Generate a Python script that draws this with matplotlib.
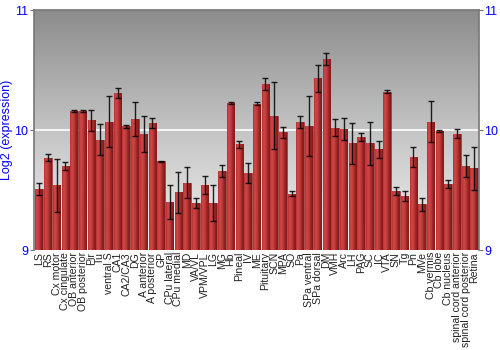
import numpy as np
import matplotlib
matplotlib.use("Agg")
import matplotlib.pyplot as plt
from matplotlib.colors import LinearSegmentedColormap

plt.rcParams['font.family'] = ['Liberation Sans', 'DejaVu Sans']

categories = ["LS", "RS", "Cx motor", "Cx cingulate", "OB anterior", "OB posterior", "Pir", "Tu",
              "ventral S", "CA1", "CA2/CA3", "DG", "A anterior", "A posterior", "GP", "CPu lateral",
              "CPu medial", "MD", "VA/VL", "VPM/VPL", "LG", "MG", "Hb", "Pineal", "IV", "ME",
              "Pituitary", "SCN", "MPA", "SO", "Pa", "SPa ventral", "SPa dorsal", "DM", "VMH", "Arc",
              "LH", "PAG", "SC", "IC", "VTA", "SN", "Tg", "Pn", "MVe", "Cb vermis", "Cb lobe",
              "Cb nucleus", "spinal cord anterior", "spinal cord posterior", "Retina"]
values = [9.51, 9.77, 9.54, 9.70, 10.16, 10.16, 10.08, 9.92, 10.07, 10.31, 10.03, 10.09, 9.97,
          10.06, 9.74, 9.40, 9.48, 9.56, 9.39, 9.54, 9.39, 9.66, 10.225, 9.88, 9.64, 10.22, 10.38,
          10.12, 9.98, 9.47, 10.07, 10.03, 10.43, 10.59, 10.02, 10.01, 9.89, 9.94, 9.89, 9.84,
          10.32, 9.49, 9.45, 9.775, 9.38, 10.07, 9.99, 9.55, 9.97, 9.70, 9.68]
errors = [0.05, 0.03, 0.22, 0.03, 0.01, 0.01, 0.09, 0.13, 0.21, 0.04, 0.01, 0.14, 0.15, 0.04,
          0.005, 0.14, 0.17, 0.13, 0.04, 0.075, 0.15, 0.05, 0.01, 0.03, 0.085, 0.01, 0.05, 0.28,
          0.047, 0.02, 0.05, 0.25, 0.11, 0.05, 0.07, 0.09, 0.17, 0.035, 0.18, 0.07, 0.01, 0.035,
          0.045, 0.08, 0.055, 0.17, 0.01, 0.035, 0.04, 0.09, 0.18]
yticks = [9, 10, 11]
ylabel = "Log2 (expression)"

fig = plt.figure(figsize=(5, 3.5), dpi=100)
ax = fig.add_axes([0.068, 0.2857, 0.89, 0.6857])
ymin, ymax = 9, 11
xmin, xmax = -0.6, len(categories) - 0.45

# background gradient
grad = np.linspace(0, 1, 256).reshape(-1, 1)
bg_cmap = LinearSegmentedColormap.from_list("bg", ["#f2f2f2", "#c4c4c4", "#8c8c8c"])
ax.imshow(grad, aspect="auto", cmap=bg_cmap, extent=[xmin, xmax, ymax, ymin],
          origin="upper", zorder=0, interpolation="bicubic")
ax.axhline(10, color="white", lw=1.2, zorder=1)

x = np.arange(len(categories))
bars = ax.bar(x, np.array(values) - ymin, bottom=ymin, width=0.86, color="#b53333",
              edgecolor="#8e2020", linewidth=0.4, zorder=2)
bar_cmap = LinearSegmentedColormap.from_list("bar", ["#b83030", "#d04848", "#c03a3a", "#9a2424", "#7e1a1a"])
hgrad = np.linspace(0, 1, 64).reshape(1, -1)
for b in bars:
    bx, bw, bh = b.get_x(), b.get_width(), b.get_height()
    im = ax.imshow(hgrad, aspect="auto", cmap=bar_cmap,
                   extent=[bx, bx + bw, ymin, ymin + bh], zorder=3, interpolation="bilinear")
    im.set_clip_path(b)
ax.errorbar(x, values, yerr=errors, fmt="none", ecolor="black", elinewidth=1.0,
            capsize=2, capthick=1.0, alpha=0.85, zorder=4)

ax.set_xlim(xmin, xmax)
ax.set_ylim(ymin, ymax)
ax.set_xticks(x)
ax.set_xticklabels(categories, rotation=90, fontsize=7.6, color="#222222")
ax.tick_params(axis="x", length=0, pad=1.5)
ax.set_yticks(yticks)
ax.set_yticklabels([str(t) for t in yticks])
ax.tick_params(axis="y", which="both", labelleft=True, labelright=True, left=True, right=True,
               colors="#777777", labelcolor="blue", labelsize=9, length=3, direction="out", pad=1)
ax.set_ylabel(ylabel, color="blue", fontsize=9, labelpad=1)
for s in ["left", "right", "top"]:
    ax.spines[s].set_color("#777777")
    ax.spines[s].set_linewidth(1.2)
ax.spines["bottom"].set_visible(False)

fig.savefig("out.png", dpi=100)
